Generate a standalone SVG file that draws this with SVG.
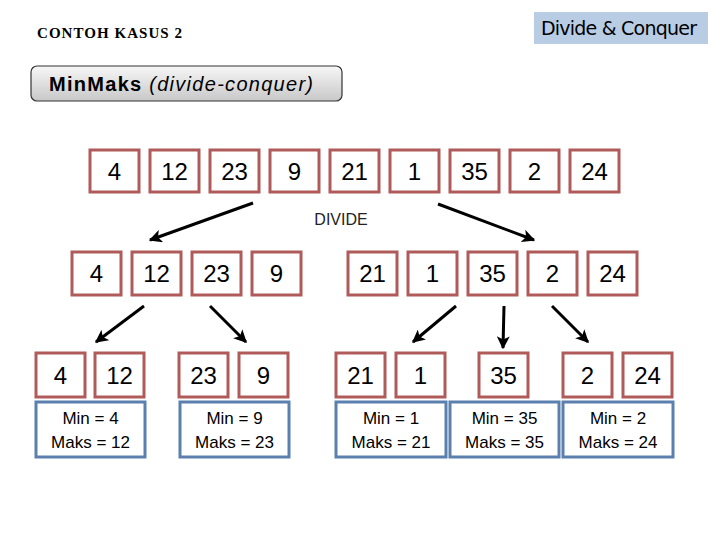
<svg xmlns="http://www.w3.org/2000/svg" width="720" height="540" viewBox="0 0 720 540">
<defs>
<linearGradient id="g" x1="0" y1="0" x2="0" y2="1">
<stop offset="0" stop-color="#f7f7f7"/><stop offset="1" stop-color="#c8c8c8"/>
</linearGradient>
<marker id="ah" viewBox="0 0 10 10" refX="9" refY="5" markerWidth="13" markerHeight="13" markerUnits="userSpaceOnUse" orient="auto">
<path d="M0,0 L10,5 L0,10 L2.5,5 z" fill="#000"/>
</marker>
<style>
.r{fill:#fff;stroke:#b05a5a;stroke-width:3}
.b{fill:#fff;stroke:#5b80ad;stroke-width:3}
.n{font-family:"Liberation Sans",Arial,sans-serif;font-size:24px;fill:#000;text-anchor:middle}
.m{font-family:"Liberation Sans",Arial,sans-serif;font-size:17px;fill:#000;text-anchor:middle}
.a{stroke:#000;stroke-width:3;fill:none;marker-end:url(#ah)}
</style>
</defs>
<rect width="720" height="540" fill="#fff"/>
<g id="title"><text x="37" y="38" font-family="Liberation Serif,serif" font-weight="bold" font-size="15" textLength="145">CONTOH KASUS 2</text></g>
<g id="badge"><rect x="534" y="12" width="174" height="32" fill="#b8cce4"/><text x="541" y="35" font-family="DejaVu Sans,sans-serif" font-size="19" textLength="156">Divide &amp; Conquer</text></g>
<g id="header"><rect x="31" y="66" width="311" height="35" rx="6" fill="url(#g)" stroke="#333" stroke-width="1.2"/><text x="49" y="91" font-family="Liberation Sans,Arial,sans-serif" font-size="20" textLength="264"><tspan font-weight="bold">MinMaks</tspan> <tspan font-style="italic">(divide-conquer)</tspan></text></g>
<g id="row1">
<rect class="r" x="90" y="150" width="49" height="42"/><text class="n" x="114.5" y="180">4</text>
<rect class="r" x="150" y="150" width="49" height="42"/><text class="n" x="174.5" y="180">12</text>
<rect class="r" x="210" y="150" width="49" height="42"/><text class="n" x="234.5" y="180">23</text>
<rect class="r" x="270" y="150" width="49" height="42"/><text class="n" x="294.5" y="180">9</text>
<rect class="r" x="330" y="150" width="49" height="42"/><text class="n" x="354.5" y="180">21</text>
<rect class="r" x="390" y="150" width="49" height="42"/><text class="n" x="414.5" y="180">1</text>
<rect class="r" x="450" y="150" width="49" height="42"/><text class="n" x="474.5" y="180">35</text>
<rect class="r" x="510" y="150" width="49" height="42"/><text class="n" x="534.5" y="180">2</text>
<rect class="r" x="570" y="150" width="49" height="42"/><text class="n" x="594.5" y="180">24</text>
</g>
<g id="divide"><text x="341" y="225" font-family="Liberation Sans,Arial,sans-serif" font-size="16" fill="#222" text-anchor="middle">DIVIDE</text></g>
<g id="row2">
<rect class="r" x="72" y="252" width="49" height="43"/><text class="n" x="96.5" y="282">4</text>
<rect class="r" x="132" y="252" width="49" height="43"/><text class="n" x="156.5" y="282">12</text>
<rect class="r" x="192" y="252" width="49" height="43"/><text class="n" x="216.5" y="282">23</text>
<rect class="r" x="252" y="252" width="49" height="43"/><text class="n" x="276.5" y="282">9</text>
<rect class="r" x="348" y="252" width="49" height="43"/><text class="n" x="372.5" y="282">21</text>
<rect class="r" x="408" y="252" width="49" height="43"/><text class="n" x="432.5" y="282">1</text>
<rect class="r" x="468" y="252" width="49" height="43"/><text class="n" x="492.5" y="282">35</text>
<rect class="r" x="528" y="252" width="49" height="43"/><text class="n" x="552.5" y="282">2</text>
<rect class="r" x="588" y="252" width="49" height="43"/><text class="n" x="612.5" y="282">24</text>
</g>
<g id="row3">
<rect class="r" x="36" y="353" width="49" height="44"/><text class="n" x="60.5" y="384">4</text>
<rect class="r" x="95" y="353" width="49" height="44"/><text class="n" x="119.5" y="384">12</text>
<rect class="r" x="179" y="353" width="49" height="44"/><text class="n" x="203.5" y="384">23</text>
<rect class="r" x="239" y="353" width="49" height="44"/><text class="n" x="263.5" y="384">9</text>
<rect class="r" x="336" y="353" width="49" height="44"/><text class="n" x="360.5" y="384">21</text>
<rect class="r" x="396" y="353" width="49" height="44"/><text class="n" x="420.5" y="384">1</text>
<rect class="r" x="479" y="353" width="49" height="44"/><text class="n" x="503.5" y="384">35</text>
<rect class="r" x="563" y="353" width="49" height="44"/><text class="n" x="587.5" y="384">2</text>
<rect class="r" x="623" y="353" width="49" height="44"/><text class="n" x="647.5" y="384">24</text>
</g>
<g id="results">
<rect class="b" x="36" y="402" width="109" height="55"/><text class="m" x="90.5" y="424">Min = 4</text><text class="m" x="90.5" y="448">Maks = 12</text>
<rect class="b" x="180" y="402" width="109" height="55"/><text class="m" x="234.5" y="424">Min = 9</text><text class="m" x="234.5" y="448">Maks = 23</text>
<rect class="b" x="336" y="402" width="110" height="55"/><text class="m" x="391" y="424">Min = 1</text><text class="m" x="391" y="448">Maks = 21</text>
<rect class="b" x="450" y="402" width="109" height="55"/><text class="m" x="504.5" y="424">Min = 35</text><text class="m" x="504.5" y="448">Maks = 35</text>
<rect class="b" x="563" y="402" width="110" height="55"/><text class="m" x="618" y="424">Min = 2</text><text class="m" x="618" y="448">Maks = 24</text>
</g>
<g id="connectors">
<line class="a" x1="253" y1="203" x2="150" y2="240"/>
<line class="a" x1="438" y1="204" x2="534" y2="240"/>
<line class="a" x1="144" y1="306" x2="96" y2="342"/>
<line class="a" x1="210" y1="306" x2="246" y2="342"/>
<line class="a" x1="456" y1="306" x2="413" y2="342"/>
<line class="a" x1="504" y1="306" x2="503" y2="348"/>
<line class="a" x1="552" y1="306" x2="588" y2="342"/>
</g>
</svg>
